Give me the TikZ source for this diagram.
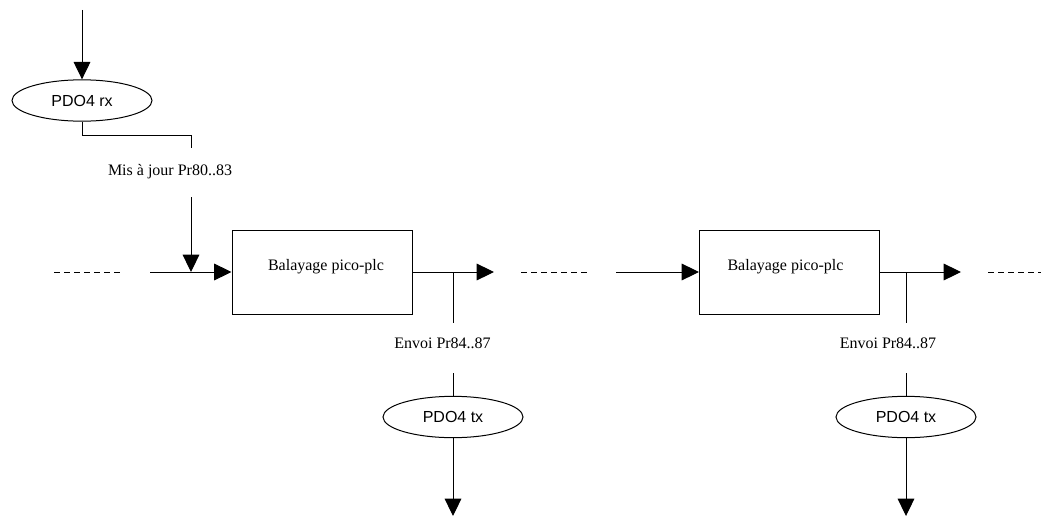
\documentclass[tikz,border=0pt]{standalone}
\usepackage{fontspec}
\setmainfont{Liberation Serif}
\newfontfamily\arialf{Liberation Sans}
\usetikzlibrary{shapes.geometric,arrows.meta}
\begin{document}
\begin{tikzpicture}[x=0.75pt,y=-0.75pt,
  line width=0.75pt,
  tip/.style={-{Triangle[length=13pt,width=12.5pt]}},
  oval/.style={draw,ellipse,inner sep=0pt,minimum width=105pt,minimum height=31pt,font=\arialf\fontsize{12}{14}\selectfont},
  procbox/.style={draw,rectangle,inner sep=0pt,minimum width=135pt,minimum height=63pt},
  proctext/.style={font=\fontsize{12}{14}\selectfont,inner sep=0pt},
  lbl/.style={font=\fontsize{12}{14}\selectfont,inner sep=0pt},
  dashline/.style={dash pattern=on 4.5pt off 3pt}]
\useasboundingbox (0,0) rectangle (1041,517);

% top part
\coordinate (topin) at (82,10);
\node[oval] (rx) at (82,100.5) {PDO4 rx};
\draw[tip] (topin) -- (rx.north);
\coordinate (c1) at (82,135);
\coordinate (c2) at (191,135);
\coordinate (c3) at (191,148);
\draw (rx.south) -- (c1) -- (c2) -- (c3);
\node[lbl] (mis) at (170,172) {Mis à jour Pr80..83};
\coordinate (c4) at (191,197);
\coordinate (c5) at (191,272);
\draw[tip] (c4) -- (c5);

% first block
\coordinate (d1a) at (54,272);
\coordinate (d1b) at (123,272);
\draw[dashline] (d1a) -- (d1b);
\coordinate (s1) at (150,272);
\node[procbox] (box1) at (322,272) {};
\node[proctext] (t1) at (326,267) {Balayage pico-plc};
\draw[tip] (s1) -- (box1.west);
\coordinate (o1) at (494,272);
\draw[tip] (box1.east) -- (o1);
\coordinate (b1a) at (453,272);
\coordinate (b1b) at (453,323);
\draw (b1a) -- (b1b);
\node[lbl] (env1) at (442.5,343) {Envoi Pr84..87};
\coordinate (b1c) at (453,373);
\node[oval] (tx1) at (453,417) {PDO4 tx};
\draw (b1c) -- (tx1.north);
\coordinate (out1) at (453,516);
\draw[tip] (tx1.south) -- (out1);

% second block
\coordinate (d2a) at (521,272);
\coordinate (d2b) at (590,272);
\draw[dashline] (d2a) -- (d2b);
\coordinate (s2) at (616,272);
\node[procbox] (box2) at (789.5,272) {};
\node[proctext] (t2) at (785.5,267) {Balayage pico-plc};
\draw[tip] (s2) -- (box2.west);
\coordinate (o2) at (961,272);
\draw[tip] (box2.east) -- (o2);
\coordinate (b2a) at (906,272);
\coordinate (b2b) at (906,323);
\draw (b2a) -- (b2b);
\node[lbl] (env2) at (888,343) {Envoi Pr84..87};
\coordinate (b2c) at (906,373);
\node[oval] (tx2) at (906,417) {PDO4 tx};
\draw (b2c) -- (tx2.north);
\coordinate (out2) at (906,516);
\draw[tip] (tx2.south) -- (out2);

\coordinate (d3a) at (988,272);
\coordinate (d3b) at (1041,272);
\draw[dashline] (d3a) -- (d3b);
\end{tikzpicture}
\end{document}
